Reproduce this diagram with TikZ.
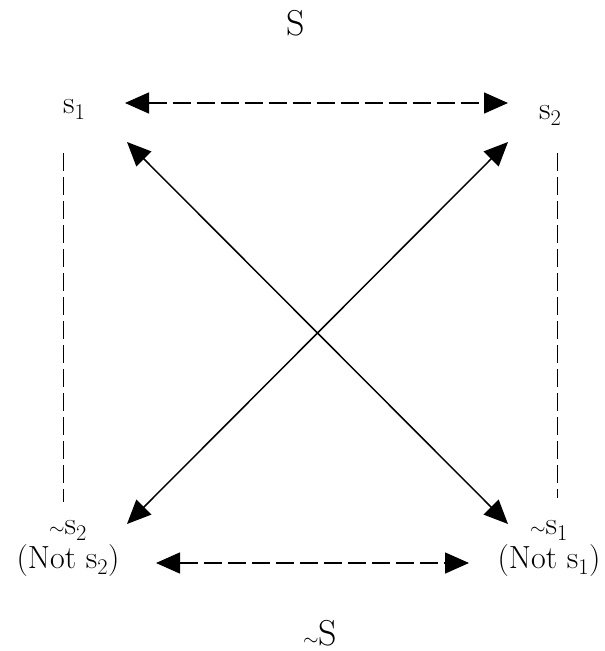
\documentclass[tikz,border=0pt]{standalone}
\usetikzlibrary{arrows.meta}
\newcommand{\tld}{\raisebox{0.0em}{\scalebox{0.8}{$\sim$}}}
\begin{document}
\begin{tikzpicture}[x=1pt,y=-1pt,
  lbl/.style={inner sep=0pt,font=\fontsize{32}{34}\selectfont},
  big/.style={inner sep=0pt,font=\fontsize{36}{38}\selectfont},
  arr/.style={line width=1.5pt,{Triangle[length=24pt,width=21pt]}-{Triangle[length=24pt,width=21pt]}},
  dsh/.style={dash pattern=on 18pt off 6pt},
  vdsh/.style={line width=1pt,dash pattern=on 18pt off 6pt}]
\useasboundingbox (0,0) rectangle (605,651);
% labels
\node[big,anchor=base] (S) at (296,35) {S};
\node[lbl,anchor=base west] (s1) at (63,113) {s\textsubscript{1}};
\node[lbl,anchor=base west] (s2) at (539,119) {s\textsubscript{2}};
\node[lbl,anchor=base,align=center] (ns2) at (68,568) {\tld s\textsubscript{2}\\(Not s\textsubscript{2})};
\node[lbl,anchor=base,align=center] (ns1) at (549,568) {\tld s\textsubscript{1}\\(Not s\textsubscript{1})};
\node[big,anchor=base] (nS) at (320,645) {\tld S};
% coordinates
\coordinate (tl) at (127,142);
\coordinate (tr) at (508,142);
\coordinate (bl) at (127,524);
\coordinate (br) at (508,524);
\coordinate (ha) at (125,103);
\coordinate (hb) at (508,103);
\coordinate (ba) at (156,563);
\coordinate (bb) at (469,563);
\coordinate (la) at (63,153);
\coordinate (lb) at (63,502);
\coordinate (ra) at (557,153);
\coordinate (rb) at (557,498);
% connectors
\draw[arr] (tl) -- (br);
\draw[arr] (tr) -- (bl);
\draw[arr,dsh] (ha) -- (hb);
\draw[arr,dsh] (ba) -- (bb);
\draw[vdsh] (la) -- (lb);
\draw[vdsh] (ra) -- (rb);
\end{tikzpicture}
\end{document}
